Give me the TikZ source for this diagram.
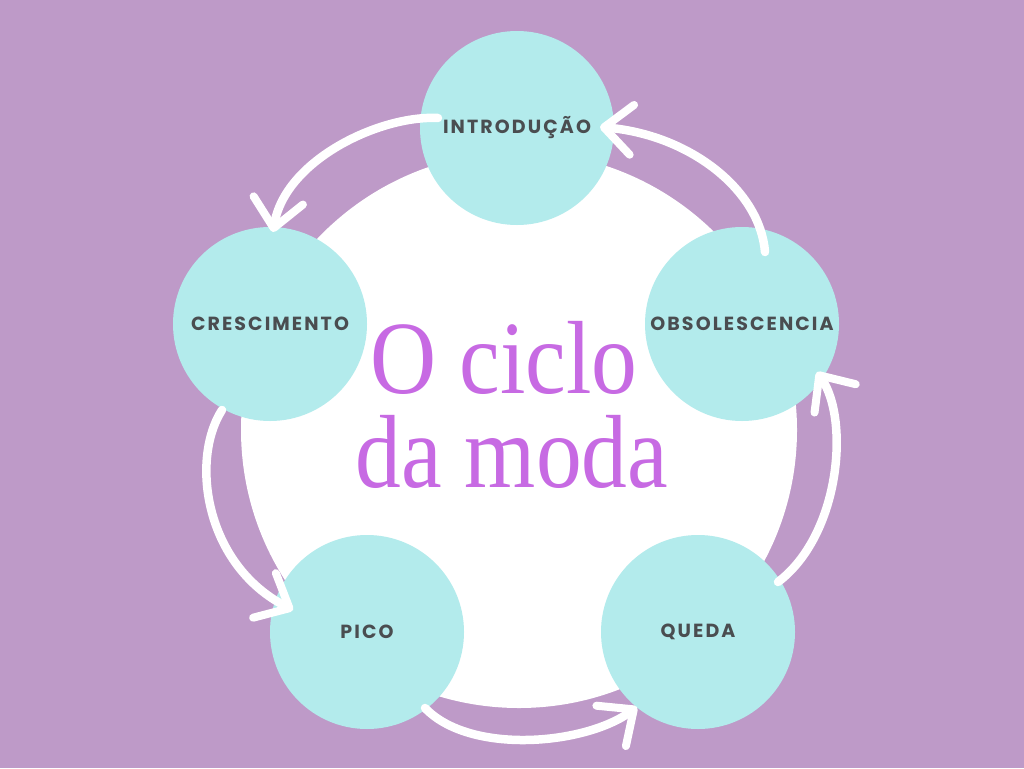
\documentclass[tikz,border=0pt]{standalone}
\usepackage{fontspec}
\usetikzlibrary{arrows.meta,calc}
\newfontfamily\popfont[LetterSpace=11]{Poppins}
\newfontfamily\titlefont{Liberation Serif}
\definecolor{bgpurple}{HTML}{BE9AC8}
\definecolor{teal}{HTML}{B3EBEC}
\definecolor{titlecol}{HTML}{C76AE3}
\definecolor{labelcol}{HTML}{4A4D50}
\tikzset{
  stage/.style={circle, fill=teal, minimum size=194pt, inner sep=0pt,
    font=\popfont\bfseries\fontsize{19}{22}\selectfont, text=labelcol},
  flow/.style={white, line width=8.5pt, line cap=round,
    -{Straight Barb[length=28pt, width=50pt, line width=8pt, round]}},
  titletext/.style={text=titlecol, inner sep=0pt, anchor=base,
    font=\titlefont\fontsize{104}{110}\selectfont}
}
\begin{document}
\begin{tikzpicture}[x=1pt, y=-1pt]
\useasboundingbox (0,0) rectangle (1024,768);
\fill[bgpurple] (0,0) rectangle (1024,768);
\fill[white] (519,430) circle (278pt);
\node[stage] (intro) at (517,128) {INTRODUÇÃO};
\node[stage] (cresc) at (270,324) {CRESCIMENTO};
\node[stage] (obso) at (742,324) {OBSOLESCENCIA};
\node[stage] (pico) at (367,632) {PICO};
\node[stage] (queda) at (698,632) {QUEDA};
\node[titletext] (t1) at (504,393) {\scalebox{0.88}[1]{O ciclo}};
\node[titletext] (t2) at (512,487) {\scalebox{0.88}[1]{da moda}};
% arrows
\draw[flow] ($(intro)+(-79,-10)$) .. controls (380,115) and (285,160) .. ($(cresc)+(3,-92)$);
\draw[flow] ($(obso)+(23,-72)$) .. controls (760,190) and (690,135) .. ($(intro)+(83,-1)$);
\draw[flow] ($(queda)+(80,-50)$) .. controls (840,535) and (850,420) .. ($(obso)+(75,48)$);
\draw[flow] ($(cresc)+(-48,86)$) .. controls (190,460) and (205,565) .. ($(pico)+(-74,-22)$);
\draw[flow] ($(pico)+(58,76)$) .. controls (470,755) and (585,745) .. ($(queda)+(-61,75)$);
\end{tikzpicture}
\end{document}
